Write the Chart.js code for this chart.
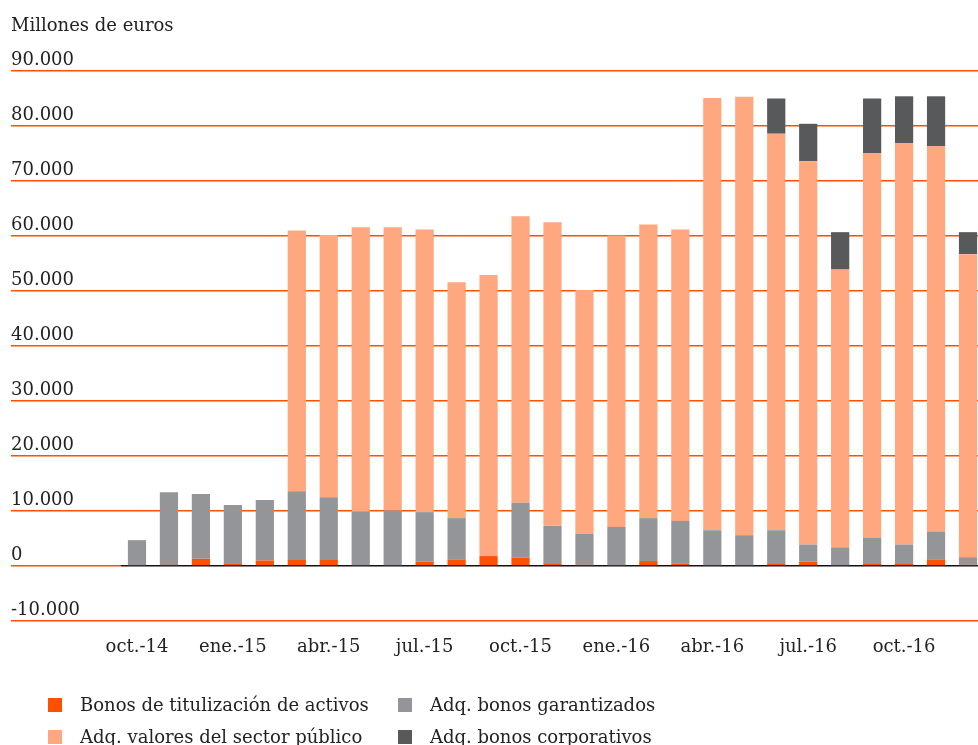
<!DOCTYPE html>
<html>
<head>
<meta charset="utf-8">
<script src="https://cdn.jsdelivr.net/npm/chart.js@4/dist/chart.umd.min.js"></script>
<style>
  html, body { margin: 0; padding: 0; background: #fff; overflow: hidden; width: 978px; height: 745px; }
  #wrap { position: absolute; left: 0; top: 0; width: 990px; height: 660px; }
  #legend { position: absolute; left: 0; top: 0; width: 978px; height: 745px; pointer-events: none;
            font-family: "DejaVu Serif", serif; font-size: 18px; color: #222; }
  .item { position: absolute; white-space: nowrap; line-height: 22px; }
  .sw { position: absolute; width: 14px; height: 14px; }
</style>
</head>
<body>
<div id="wrap"><canvas id="c" width="990" height="660"></canvas></div>
<div id="legend"></div>
<script>
const categories = ['oct.-14','nov.-14','dic.-14','ene.-15','feb.-15','mar.-15','abr.-15','may.-15','jun.-15','jul.-15','ago.-15','sep.-15','oct.-15','nov.-15','dic.-15','ene.-16','feb.-16','mar.-16','abr.-16','may.-16','jun.-16','jul.-16','ago.-16','sep.-16','oct.-16','nov.-16','dic.-16'];
const seriesNames = ['Bonos de titulización de activos','Adq. bonos garantizados','Adq. valores del sector público','Adq. bonos corporativos'];
const abs       = [0, 200, 1300, 500, 1000, 1100, 1100, 0, 0, 800, 1200, 1800, 1500, 500, 200, 0, 900, 400, 0, 0, 500, 800, 0, 500, 500, 1200, 200];
const covered   = [4700, 13200, 11800, 10600, 11000, 12500, 11400, 9900, 10100, 9000, 7500, 0, 10000, 6800, 5700, 7100, 7800, 7800, 6500, 5600, 6000, 3100, 3400, 4600, 3400, 5000, 1400];
const publicSec = [0, 0, 0, 0, 0, 47400, 47700, 51700, 51500, 51400, 42900, 51100, 52100, 55200, 44300, 53000, 53400, 53000, 78600, 79700, 72100, 69700, 50500, 70000, 73000, 70100, 55100];
const corporate = [0, 0, 0, 0, 0, 0, 0, 0, 0, 0, 0, 0, 0, 0, 0, 0, 0, 0, 0, 0, 6400, 6800, 6800, 9900, 8500, 9100, 4000];
const yMin = -10000, yMax = 90000, yStep = 10000;
const title = 'Millones de euros';

const colors = ['#ff5000', '#949598', '#ffa77e', '#58595b'];
const ORANGE = '#ff4f00';
const FONT = '"DejaVu Serif", serif';

function fmt(v) {
  const s = String(Math.abs(v)).replace(/\B(?=(\d{3})+(?!\d))/g, '.');
  return (v < 0 ? '-' : '') + s;
}

const data = [abs, covered, publicSec, corporate];
const chart = new Chart(document.getElementById('c'), {
  type: 'bar',
  data: {
    labels: categories,
    datasets: seriesNames.map((n, i) => ({
      label: n,
      data: data[i],
      backgroundColor: colors[i],
      borderWidth: 0,
      categoryPercentage: 1,
      barPercentage: 0.57
    }))
  },
  options: {
    responsive: false,
    animation: false,
    layout: { padding: { left: 11, right: 6, top: 0, bottom: 0 } },
    plugins: {
      legend: { display: false },
      tooltip: { enabled: false },
      title: {
        display: true, text: title, align: 'start', color: '#222',
        font: { family: FONT, size: 18, weight: 'normal', lineHeight: 1.2 },
        padding: { top: 16, bottom: 33.4 }
      }
    },
    scales: {
      x: {
        stacked: true,
        grid: { display: false },
        border: { display: false },
        ticks: {
          autoSkip: false, maxRotation: 0, minRotation: 0, padding: 8, color: '#222',
          font: { family: FONT, size: 18 },
          callback: (v, i) => (i % 3 === 0 ? categories[i] : '')
        },
        afterFit: s => { s.height = 39; }
      },
      y: {
        stacked: true,
        min: yMin, max: yMax,
        border: { display: false },
        grid: {
          color: c => (c.tick && c.tick.value === 0 ? '#111' : ORANGE),
          tickColor: ORANGE,
          lineWidth: 1.5,
          drawTicks: true,
          tickLength: 110
        },
        ticks: {
          stepSize: yStep, crossAlign: 'far', labelOffset: -11, padding: 0, color: '#222',
          font: { family: FONT, size: 18 },
          callback: v => fmt(v)
        },
        afterFit: s => { s.width = 110; }
      }
    }
  }
});

// HTML legend built from the chart's datasets
const lg = document.getElementById('legend');
const pos = [[48, 705], [398, 705], [48, 737], [398, 737]];
chart.data.datasets.forEach((ds, i) => {
  const [x, y] = pos[i];
  const sw = document.createElement('div');
  sw.className = 'sw';
  sw.style.left = x + 'px'; sw.style.top = (y - 7) + 'px';
  sw.style.background = ds.backgroundColor;
  lg.appendChild(sw);
  const t = document.createElement('div');
  t.className = 'item';
  t.style.left = (x + 32) + 'px'; t.style.top = (y - 11) + 'px';
  t.textContent = ds.label;
  lg.appendChild(t);
});
</script>
</body>
</html>
